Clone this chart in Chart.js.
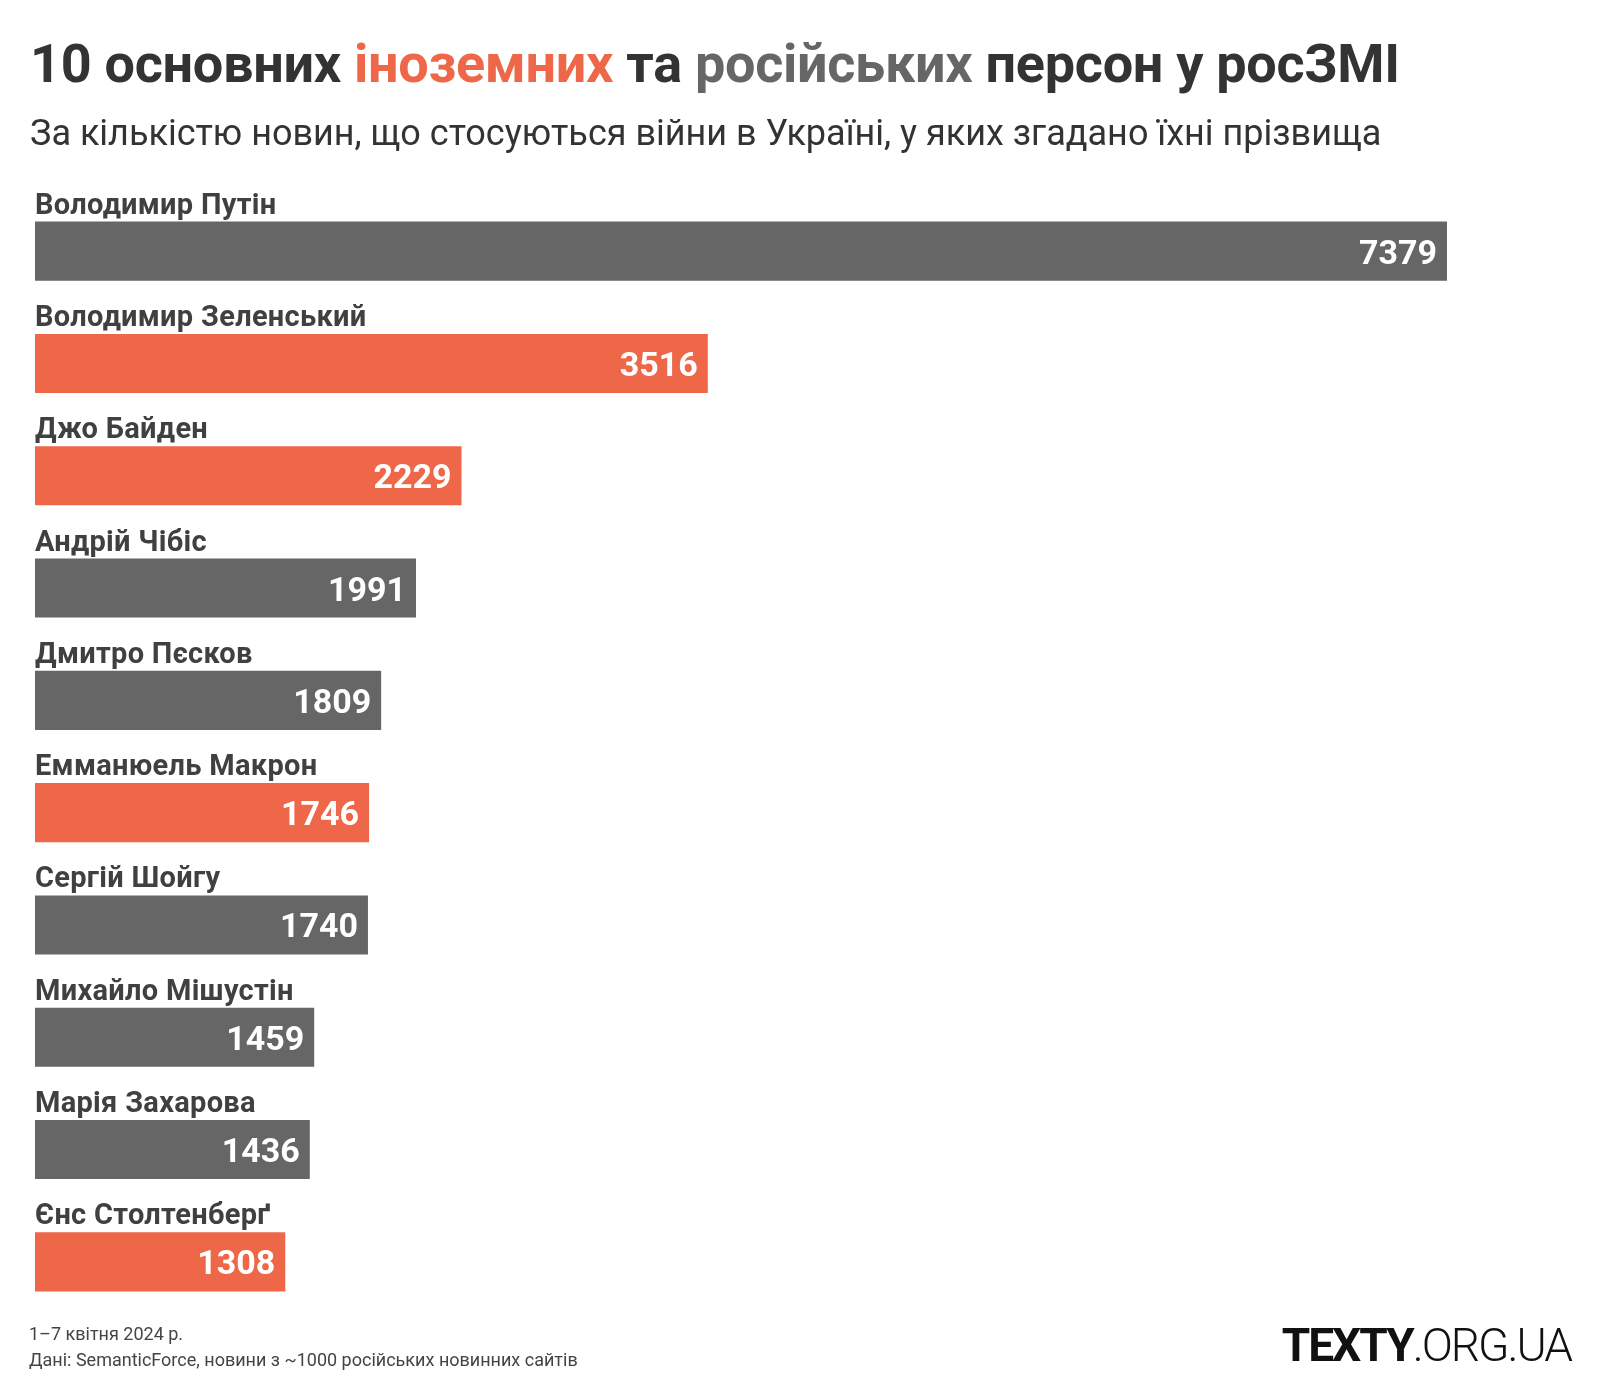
<!DOCTYPE html>
<html lang="uk">
<head>
<meta charset="utf-8">
<title>10 основних іноземних та російських персон у росЗМІ</title>
<script src="https://cdn.jsdelivr.net/npm/chart.js@4.4.1/dist/chart.umd.min.js"></script>
<style>
  html, body { margin: 0; padding: 0; background: #fff; }
  body { width: 1600px; height: 1400px; position: relative; overflow: hidden; font-family: Roboto, "Noto Sans", sans-serif; }
  #chart { position: absolute; left: 0; top: 0; }
  .txt { position: absolute; white-space: nowrap; line-height: 1; }
  #title { left: 30px; top: 37px; font-size: 54px; font-weight: 700; color: #333; letter-spacing: -0.3px; }
  #title .foreign { color: #ee6748; }
  #title .ru { color: #666; }
  #subtitle { left: 30px; top: 115px; font-size: 36px; color: #333; }
  #date { left: 29px; top: 1325px; font-size: 18px; color: #444; }
  #source { left: 29px; top: 1351px; font-size: 18px; color: #444; }
  #logo { right: 29px; top: 1322px; font-size: 46px; color: #111; letter-spacing: -2px; }
  #logo b { font-weight: 700; }
  #logo span { font-weight: 300; }
</style>
</head>
<body>
<canvas id="chart" width="1600" height="1400"></canvas>
<div class="txt" id="title">10 основних <span class="foreign">іноземних</span> та <span class="ru">російських</span> персон у росЗМІ</div>
<div class="txt" id="subtitle">За кількістю новин, що стосуються війни в Україні, у яких згадано їхні прізвища</div>
<div class="txt" id="date">1–7 квітня 2024 р.</div>
<div class="txt" id="source">Дані: SemanticForce, новини з ~1000 російських новинних сайтів</div>
<div class="txt" id="logo"><b>TEXTY</b><span>.ORG.UA</span></div>
<script>
const names = [
  'Володимир Путін',
  'Володимир Зеленський',
  'Джо Байден',
  'Андрій Чібіс',
  'Дмитро Пєсков',
  'Емманюель Макрон',
  'Сергій Шойгу',
  'Михайло Мішустін',
  'Марія Захарова',
  'Єнс Столтенберґ'
];
const mentions = [7379, 3516, 2229, 1991, 1809, 1746, 1740, 1459, 1436, 1308];
// 'ru' - російські, 'foreign' - іноземні
const groups = ['ru', 'foreign', 'foreign', 'ru', 'ru', 'foreign', 'ru', 'ru', 'ru', 'foreign'];

const colors = { ru: '#666666', foreign: '#ee6748' };

// підписи: ім'я над смугою, число всередині смуги
const barLabels = {
  id: 'barLabels',
  afterDatasetsDraw(chart) {
    const ctx = chart.ctx;
    const meta = chart.getDatasetMeta(0);
    ctx.save();
    meta.data.forEach((bar, i) => {
      const top = bar.y - bar.height / 2;
      ctx.font = '700 29px Roboto, "Noto Sans", sans-serif';
      ctx.letterSpacing = '0.3px';
      ctx.fillStyle = '#404040';
      ctx.textAlign = 'left';
      ctx.textBaseline = 'alphabetic';
      ctx.fillText(names[i], bar.base, top - 8);

      ctx.font = '700 34px Roboto, "Noto Sans", sans-serif';
      ctx.letterSpacing = '0px';
      ctx.fillStyle = '#fff';
      ctx.textAlign = 'right';
      ctx.textBaseline = 'middle';
      ctx.fillText(String(mentions[i]), bar.x - 10, bar.y + 4);
    });
    ctx.restore();
  }
};

new Chart(document.getElementById('chart').getContext('2d'), {
  type: 'bar',
  data: {
    labels: names,
    datasets: [{
      data: mentions,
      backgroundColor: groups.map(g => colors[g]),
      borderWidth: 0,
      barPercentage: 0.526,
      categoryPercentage: 1
    }]
  },
  options: {
    indexAxis: 'y',
    responsive: false,
    animation: false,
    events: [],
    layout: { padding: { top: 195, bottom: 82, left: 35, right: 153 } },
    scales: {
      x: { display: false, min: 0, max: 7379 },
      y: { display: false }
    },
    plugins: {
      legend: { display: false },
      tooltip: { enabled: false }
    }
  },
  plugins: [barLabels]
});
</script>
</body>
</html>
